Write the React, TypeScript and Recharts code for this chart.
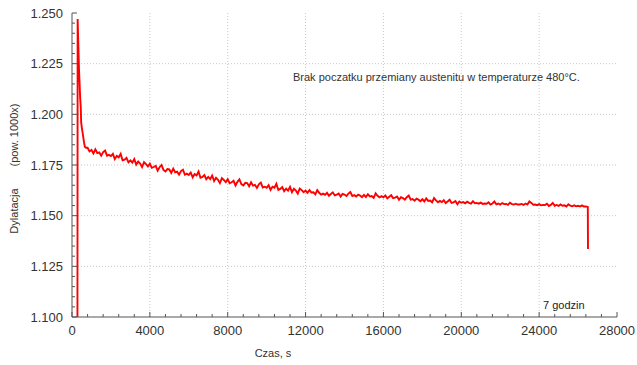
import { LineChart, Line, XAxis, YAxis, ReferenceLine } from "recharts";

// czas, s
const timeS = [
  280, 290, 320, 340, 360, 390, 420, 450, 470, 520, 560, 620, 660, 720,
  800, 900,
  1000, 1100, 1200, 1300, 1400, 1500, 1600, 1700, 1800, 1900,
  2000, 2100, 2200, 2300, 2400, 2500, 2600, 2700, 2800, 2900,
  3000, 3100, 3200, 3300, 3400, 3500, 3600, 3700, 3800, 3900,
  4000, 4100, 4200, 4300, 4400, 4500, 4600, 4700, 4800, 4900,
  5000, 5100, 5200, 5300, 5400, 5500, 5600, 5700, 5800, 5900,
  6000, 6100, 6200, 6300, 6400, 6500, 6600, 6700, 6800, 6900,
  7000, 7100, 7200, 7300, 7400, 7500, 7600, 7700, 7800, 7900,
  8000, 8100, 8200, 8300, 8400, 8500, 8600, 8700, 8800, 8900,
  9000, 9100, 9200, 9300, 9400, 9500, 9600, 9700, 9800, 9900,
  10000, 10100, 10200, 10300, 10400, 10500, 10600, 10700, 10800, 10900,
  11000, 11100, 11200, 11300, 11400, 11500, 11600, 11700, 11800, 11900,
  12000, 12100, 12200, 12300, 12400, 12500, 12600, 12700, 12800, 12900,
  13000, 13100, 13200, 13300, 13400, 13500, 13600, 13700, 13800, 13900,
  14000, 14100, 14200, 14300, 14400, 14500, 14600, 14700, 14800, 14900,
  15000, 15100, 15200, 15300, 15400, 15500, 15600, 15700, 15800, 15900,
  16000, 16100, 16200, 16300, 16400, 16500, 16600, 16700, 16800, 16900,
  17000, 17100, 17200, 17300, 17400, 17500, 17600, 17700, 17800, 17900,
  18000, 18100, 18200, 18300, 18400, 18500, 18600, 18700, 18800, 18900,
  19000, 19100, 19200, 19300, 19400, 19500, 19600, 19700, 19800, 19900,
  20000, 20100, 20200, 20300, 20400, 20500, 20600, 20700, 20800, 20900,
  21000, 21100, 21200, 21300, 21400, 21500, 21600, 21700, 21800, 21900,
  22000, 22100, 22200, 22300, 22400, 22500, 22600, 22700, 22800, 22900,
  23000, 23100, 23200, 23300, 23400, 23500, 23600, 23700, 23800, 23900,
  24000, 24100, 24200, 24300, 24400, 24500, 24600, 24700, 24800, 24900,
  25000, 25100, 25200, 25300, 25400, 25500, 25600, 25700, 25800, 25900,
  26000, 26100, 26200, 26300, 26400, 26500, 26510,
];

// dylatacja (pow. 1000x)
const dilatation = [
  1.1, 1.247, 1.236, 1.229, 1.222, 1.2155, 1.208, 1.2036, 1.196, 1.1925, 1.19, 1.186, 1.184, 1.1835,
  1.1835, 1.1817,
  1.1824, 1.1807, 1.1827, 1.1809, 1.1812, 1.1796, 1.1814, 1.1821, 1.1796, 1.18,
  1.1794, 1.1805, 1.1779, 1.1795, 1.1788, 1.1805, 1.1773, 1.1776, 1.1785, 1.1763,
  1.1773, 1.1762, 1.1779, 1.1752, 1.1767, 1.1757, 1.174, 1.1764, 1.1754, 1.1743,
  1.1757, 1.1736, 1.174, 1.1746, 1.1722, 1.1739, 1.175, 1.1726, 1.1718, 1.173,
  1.1728, 1.1711, 1.1732, 1.1714, 1.1717, 1.1702, 1.172, 1.1727, 1.1702, 1.1707,
  1.1701, 1.1713, 1.1689, 1.1705, 1.1699, 1.1718, 1.1687, 1.1691, 1.17, 1.168,
  1.1691, 1.168, 1.1698, 1.1671, 1.1687, 1.1677, 1.1661, 1.1685, 1.1676, 1.1665,
  1.168, 1.166, 1.1665, 1.1672, 1.1649, 1.1667, 1.1679, 1.1656, 1.1649, 1.1662,
  1.1661, 1.1645, 1.1665, 1.1648, 1.1652, 1.1637, 1.1655, 1.1663, 1.1639, 1.1643,
  1.1638, 1.1651, 1.1627, 1.1643, 1.1638, 1.1657, 1.1627, 1.1632, 1.1641, 1.1621,
  1.1633, 1.1623, 1.1642, 1.1616, 1.1633, 1.1624, 1.1609, 1.1634, 1.1626, 1.1616,
  1.1624, 1.1613, 1.1626, 1.1614, 1.1615, 1.1605, 1.1626, 1.1613, 1.1604, 1.1609,
  1.1603, 1.1613, 1.1598, 1.1607, 1.1615, 1.16, 1.1604, 1.1609, 1.1594, 1.1607,
  1.1604, 1.1597, 1.1609, 1.1617, 1.1597, 1.1601, 1.1594, 1.1604, 1.1599, 1.1591,
  1.1602, 1.1592, 1.1606, 1.1595, 1.1597, 1.1588, 1.161, 1.1598, 1.159, 1.1596,
  1.1591, 1.16, 1.1585, 1.1593, 1.1601, 1.1586, 1.1589, 1.1594, 1.1578, 1.1591,
  1.1587, 1.1579, 1.1591, 1.1599, 1.1579, 1.1582, 1.1574, 1.1584, 1.1579, 1.1571,
  1.1581, 1.157, 1.1585, 1.1573, 1.1575, 1.1566, 1.1587, 1.1575, 1.1566, 1.1573,
  1.1567, 1.1576, 1.1562, 1.157, 1.1579, 1.1563, 1.1566, 1.1572, 1.1556, 1.157,
  1.1564, 1.1567, 1.1561, 1.1569, 1.1563, 1.1559, 1.1571, 1.1561, 1.1563, 1.1559,
  1.1564, 1.1558, 1.156, 1.1559, 1.1566, 1.1555, 1.156, 1.157, 1.1556, 1.156,
  1.1555, 1.1562, 1.1557, 1.1558, 1.1553, 1.1564, 1.1557, 1.1555, 1.1559, 1.1555,
  1.1555, 1.1558, 1.1553, 1.156, 1.1555, 1.157, 1.1563, 1.1554, 1.1555, 1.1552,
  1.1557, 1.1551, 1.1553, 1.1552, 1.1559, 1.1548, 1.1553, 1.1563, 1.1549, 1.1553,
  1.1548, 1.1555, 1.1549, 1.1551, 1.1545, 1.1556, 1.1549, 1.1546, 1.1551, 1.1546,
  1.1549, 1.1545, 1.1551, 1.1545, 1.1546, 1.1543, 1.1335,
];

const xMajorTicks = [0, 4000, 8000, 12000, 16000, 20000, 24000, 28000];
const xMinorTicks = [
  0, 800, 1600, 2400, 3200, 4000, 4800, 5600, 6400, 7200, 8000, 8800, 9600,
  10400, 11200, 12000, 12800, 13600, 14400, 15200, 16000, 16800, 17600, 18400,
  19200, 20000, 20800, 21600, 22400, 23200, 24000, 24800, 25600, 26400, 27200, 28000,
];
const yMajorTicks = [1.1, 1.125, 1.15, 1.175, 1.2, 1.225, 1.25];
const yMinorTicks = [
  1.1, 1.105, 1.11, 1.115, 1.12, 1.125, 1.13, 1.135, 1.14, 1.145, 1.15, 1.155,
  1.16, 1.165, 1.17, 1.175, 1.18, 1.185, 1.19, 1.195, 1.2, 1.205, 1.21, 1.215,
  1.22, 1.225, 1.23, 1.235, 1.24, 1.245, 1.25,
];

const data = timeS.map((t, i) => ({ t, v: dilatation[i] }));

const FONT = "'Liberation Sans', Arial, sans-serif";
const AXIS = "#555";
const TEXT = "#333";

const isMajorY = (v: number) => Math.round(v * 1000) % 25 === 0;
const isMajorX = (v: number) => v % 4000 === 0;

const BottomTick = (p: any) => {
  const v = p.payload.value;
  const major = isMajorX(v);
  return (
    <g>
      <line x1={p.x} x2={p.x} y1={p.y} y2={p.y - (major ? 5 : 3)} stroke={AXIS} />
      {major && (
        <text x={p.x} y={p.y + 18} textAnchor="middle" fontSize={13} fontFamily={FONT} fill={TEXT}>
          {v}
        </text>
      )}
    </g>
  );
};

const TopTick = (p: any) => {
  const major = isMajorX(p.payload.value);
  return <line x1={p.x} x2={p.x} y1={p.y} y2={p.y + (major ? 5 : 3)} stroke={AXIS} />;
};

const LeftTick = (p: any) => {
  const v = p.payload.value;
  const major = isMajorY(v);
  return (
    <g>
      <line x1={p.x} x2={p.x + (major ? 5 : 3)} y1={p.y} y2={p.y} stroke={AXIS} />
      {major && (
        <text x={p.x - 9} y={p.y + 4.5} textAnchor="end" fontSize={13} fontFamily={FONT} fill={TEXT}>
          {v.toFixed(3)}
        </text>
      )}
    </g>
  );
};

const RightTick = (p: any) => {
  const major = isMajorY(p.payload.value);
  return <line x1={p.x} x2={p.x - (major ? 5 : 3)} y1={p.y} y2={p.y} stroke={AXIS} />;
};

export default function App() {
  return (
    <div style={{ position: "absolute", left: 0, top: 0, width: 637, height: 365, background: "#fff" }}>
      <LineChart width={637} height={365} data={data} margin={{ top: 13, right: 20, bottom: 0, left: 0 }}>
        <XAxis
          xAxisId="b"
          dataKey="t"
          type="number"
          domain={[0, 28000]}
          ticks={xMinorTicks}
          interval={0}
          height={48}
          tickSize={0}
          tickMargin={0}
          tick={BottomTick}
          stroke={AXIS}
          allowDataOverflow
        />
        <XAxis
          xAxisId="t"
          orientation="top"
          dataKey="t"
          type="number"
          domain={[0, 28000]}
          ticks={xMinorTicks}
          interval={0}
          height={0}
          tickSize={0}
          tickMargin={0}
          tick={TopTick}
          stroke={AXIS}
          allowDataOverflow
        />
        <YAxis
          yAxisId="l"
          type="number"
          domain={[1.1, 1.25]}
          ticks={yMinorTicks}
          interval={0}
          width={72}
          tickSize={0}
          tickMargin={0}
          tick={LeftTick}
          stroke={AXIS}
          allowDataOverflow
        />
        <YAxis
          yAxisId="r"
          orientation="right"
          type="number"
          domain={[1.1, 1.25]}
          ticks={yMinorTicks}
          interval={0}
          width={0}
          tickSize={0}
          tickMargin={0}
          tick={RightTick}
          stroke={AXIS}
          allowDataOverflow
        />
        {xMajorTicks.slice(1, -1).map((x) => (
          <ReferenceLine key={"x" + x} xAxisId="b" yAxisId="l" x={x} stroke="#c8c8c8" strokeDasharray="1 2" />
        ))}
        {yMajorTicks.slice(1, -1).map((y) => (
          <ReferenceLine key={"y" + y} xAxisId="b" yAxisId="l" y={y} stroke="#c8c8c8" strokeDasharray="1 2" />
        ))}
        <Line
          xAxisId="b"
          yAxisId="l"
          dataKey="v"
          type="linear"
          stroke="#ff0000"
          strokeWidth={1.9}
          dot={false}
          isAnimationActive={false}
        />
      </LineChart>
      <svg width={637} height={365} style={{ position: "absolute", left: 0, top: 0, pointerEvents: "none" }}>
        <text x={293} y={81} fontSize={11} fontFamily={FONT} fill={TEXT}>
          Brak poczatku przemiany austenitu w temperaturze 480°C.
        </text>
        <text x={543} y={309} fontSize={11} fontFamily={FONT} fill="#222">
          7 godzin
        </text>
        <text x={273} y={357} textAnchor="middle" fontSize={11} fontFamily={FONT} fill={TEXT}>
          Czas, s
        </text>
        <text x={18} y={211} transform="rotate(-90 18 211)" textAnchor="middle" fontSize={11} fontFamily={FONT} fill={TEXT}>
          Dylatacja
        </text>
        <text x={18} y={135} transform="rotate(-90 18 135)" textAnchor="middle" fontSize={11} fontFamily={FONT} fill={TEXT}>
          (pow. 1000x)
        </text>
      </svg>
    </div>
  );
}
